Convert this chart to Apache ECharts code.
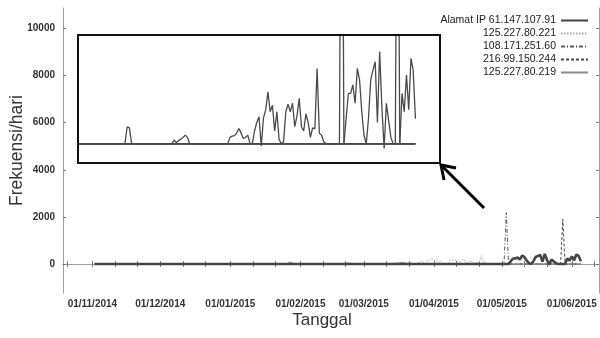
<!DOCTYPE html>
<html>
<head>
<meta charset="utf-8">
<script src="https://cdn.jsdelivr.net/npm/echarts@6/dist/echarts.min.js"></script>
<style>
  html, body { margin: 0; padding: 0; background: #fff; }
  #chart { width: 600px; height: 338px; }
</style>
</head>
<body>
<div id="chart"></div>
<script>
// tick labels
const monthLabels = ['2014-11-01', '2014-12-01', '2015-01-01', '2015-02-01', '2015-03-01',
  '2015-04-01', '2015-05-01', '2015-06-01'];
const yLabels = [0, 2000, 4000, 6000, 8000, 10000];

const seriesNames = ['Alamat IP 61.147.107.91', '125.227.80.221', '108.171.251.60',
  '216.99.150.244', '125.227.80.219'];

// daily hits per IP address, [date, value]
const ip61 = [
  ['2014-11-02', 0], ['2015-05-04', 0], ['2015-05-05', 120], ['2015-05-06', 236], ['2015-05-07', 236],
  ['2015-05-08', 276], ['2015-05-09', 190], ['2015-05-10', 353], ['2015-05-11', 300], ['2015-05-12', 150],
  ['2015-05-13', 40], ['2015-05-14', 0], ['2015-05-15', 120], ['2015-05-16', 300], ['2015-05-17', 345],
  ['2015-05-18', 385], ['2015-05-19', 100], ['2015-05-20', 432], ['2015-05-21', 170], ['2015-05-22', -22],
  ['2015-05-23', 190], ['2015-05-24', 110], ['2015-05-25', 30], ['2015-05-26', 0], ['2015-05-29', 0],
  ['2015-05-30', 236], ['2015-05-31', 150], ['2015-06-01', 322], ['2015-06-02', 160], ['2015-06-03', 400],
  ['2015-06-04', 345], ['2015-06-05', 118]
];
const ip125_221 = [
  ['2014-11-02', 0], ['2015-03-24', 0], ['2015-03-25', 60], ['2015-03-26', 100], ['2015-03-27', 127],
  ['2015-03-28', -10], ['2015-03-29', 120], ['2015-03-30', 160], ['2015-03-31', 244], ['2015-04-01', 150],
  ['2015-04-02', 181], ['2015-04-03', 60], ['2015-04-04', 150], ['2015-04-05', 20], ['2015-04-06', 0],
  ['2015-04-07', 10], ['2015-04-08', 150], ['2015-04-09', 186], ['2015-04-10', 150], ['2015-04-11', 190],
  ['2015-04-12', 80], ['2015-04-13', 130], ['2015-04-14', 213], ['2015-04-15', 80], ['2015-04-16', 60],
  ['2015-04-17', 140], ['2015-04-18', 100], ['2015-04-19', 30], ['2015-04-20', 75], ['2015-04-21', 70],
  ['2015-04-22', 353], ['2015-04-23', 50], ['2015-04-24', 40], ['2015-04-25', 10], ['2015-04-26', 0],
  ['2015-06-05', 0]
];
const ip108 = [
  ['2014-11-02', 0], ['2015-05-02', 0], ['2015-05-03', 2180], ['2015-05-04', 0], ['2015-06-05', 0]
];
const ip216 = [
  ['2014-11-02', 0], ['2015-05-27', 0], ['2015-05-28', 1900], ['2015-05-29', 0], ['2015-06-05', 0]
];
const ip125_219 = [
  ['2014-11-02', 0], ['2015-01-26', 0], ['2015-01-27', 80], ['2015-01-28', 75], ['2015-01-29', 0],
  ['2015-02-16', 0], ['2015-02-17', 18], ['2015-02-18', 5], ['2015-02-19', 15], ['2015-02-20', 22],
  ['2015-02-21', 30], ['2015-02-22', 40], ['2015-02-23', 30], ['2015-02-24', 0], ['2015-03-13', 0],
  ['2015-03-14', 30], ['2015-03-15', 36], ['2015-03-16', 38], ['2015-03-17', 50], ['2015-03-18', 72],
  ['2015-03-19', 50], ['2015-03-20', 25], ['2015-03-21', 30], ['2015-03-22', 40], ['2015-03-23', 0],
  ['2015-06-05', 0]
];

const allData = [ip61, ip125_221, ip108, ip216, ip125_219];
const lineStyles = [
  { color: '#454545', width: 2.6, type: 'solid' },
  { color: '#a8a8a8', width: 1, type: [1.5, 1.5] },
  { color: '#5a5a5a', width: 1, type: [4, 2, 1, 2] },
  { color: '#4a4a4a', width: 1, type: [3, 2] },
  { color: '#8a8a8a', width: 1, type: 'solid' }
];

// dates are put on a plain value axis as UTC timestamps
function ts(s) { return Date.parse(s); }
function pad(n) { return n < 10 ? '0' + n : '' + n; }
function fmtDate(v) {
  const d = new Date(v);
  return pad(d.getUTCDate()) + '/' + pad(d.getUTCMonth() + 1) + '/' + d.getUTCFullYear();
}

// minor ticks on the 1st, 11th and 21st of every month
const tickDates = [ts('2014-10-21')];
monthLabels.forEach(function (m) {
  tickDates.push(ts(m), ts(m.slice(0, 8) + '11'), ts(m.slice(0, 8) + '21'));
});
const labelDates = monthLabels.map(ts);

const axisColor = '#a0a0a0';
const labelFont = { fontFamily: 'Liberation Sans', fontSize: 10, color: '#333', fontWeight: 'bold' };

const chart = echarts.init(document.getElementById('chart'), null, { renderer: 'canvas' });

const series = [];
allData.forEach(function (d, i) {
  series.push({
    name: seriesNames[i],
    type: 'line',
    data: d.map(function (p) { return [ts(p[0]), p[1]]; }),
    symbol: 'none',
    color: lineStyles[i].color,
    xAxisIndex: 0,
    yAxisIndex: 0,
    z: i === 0 ? 5 : 3,
    lineStyle: lineStyles[i]
  });
});
// zoomed view in the box
allData.forEach(function (d, i) {
  series.push({
    name: 'zoom ' + seriesNames[i],
    type: 'line',
    data: d.map(function (p) { return [ts(p[0]), p[1]]; }),
    symbol: 'none',
    color: '#4a4a4a',
    xAxisIndex: 2,
    yAxisIndex: 2,
    clip: true,
    lineStyle: { color: '#4a4a4a', width: 1.3 }
  });
});

const xMin = ts('2014-10-19'), xMax = ts('2015-06-13');

const option = {
  animation: false,
  backgroundColor: '#fff',
  grid: [
    { left: 63, right: 1, top: 8, bottom: 45, outerBoundsMode: 'none' },
    { left: 78, top: 35, width: 362, height: 128, show: true, outerBoundsMode: 'none',
      borderColor: '#111', borderWidth: 2, backgroundColor: 'transparent', z: 4 }
  ],
  legend: {
    data: seriesNames,
    orient: 'vertical',
    right: 6,
    top: 10,
    align: 'right',
    itemWidth: 27,
    itemHeight: 10,
    itemGap: 2,
    itemStyle: { opacity: 0 },
    textStyle: { fontFamily: 'Liberation Sans', fontSize: 10.5, color: '#222' }
  },
  xAxis: [
    {
      type: 'value',
      gridIndex: 0,
      min: xMin,
      max: xMax,
      name: 'Tanggal',
      nameLocation: 'middle',
      nameGap: 19,
      nameMoveOverlap: false,
      nameTextStyle: { fontFamily: 'Liberation Sans', fontSize: 17, color: '#333', padding: [0, 18, 0, 0] },
      axisLine: { lineStyle: { color: axisColor } },
      axisTick: { inside: true, length: 3, customValues: tickDates, lineStyle: { color: '#777' } },
      axisLabel: Object.assign({ customValues: labelDates, formatter: fmtDate, margin: 6 }, labelFont),
      splitLine: { show: false }
    },
    {
      type: 'value',
      gridIndex: 0,
      position: 'top',
      min: xMin,
      max: xMax,
      axisLine: { lineStyle: { color: axisColor } },
      axisTick: { inside: true, length: 3, customValues: tickDates, lineStyle: { color: '#777' } },
      axisLabel: { show: false },
      splitLine: { show: false }
    },
    {
      type: 'value',
      gridIndex: 1,
      min: ts('2015-01-05'),
      max: ts('2015-06-16'),
      show: false
    }
  ],
  yAxis: [
    {
      type: 'value',
      gridIndex: 0,
      min: -1230,
      max: 10870,
      name: 'Frekuensi/hari',
      nameLocation: 'middle',
      nameGap: 37,
      nameMoveOverlap: false,
      nameTextStyle: { fontFamily: 'Liberation Sans', fontSize: 17.5, color: '#333' },
      axisLine: { show: true, lineStyle: { color: axisColor } },
      axisTick: { show: true, inside: true, length: 3, customValues: yLabels, lineStyle: { color: '#777' } },
      axisLabel: Object.assign({ customValues: yLabels, margin: 8, formatter: function (v) { return String(v); } }, labelFont),
      splitLine: { show: false }
    },
    {
      type: 'value',
      gridIndex: 0,
      position: 'right',
      min: -1230,
      max: 10870,
      axisLine: { show: true, lineStyle: { color: axisColor } },
      axisTick: { show: true, inside: true, length: 3, customValues: yLabels, lineStyle: { color: '#777' } },
      axisLabel: { show: false },
      splitLine: { show: false }
    },
    {
      type: 'value',
      gridIndex: 1,
      min: -90,
      max: 510,
      show: false
    }
  ],
  graphic: [
    {
      type: 'polyline',
      z: 100,
      shape: { points: [[484, 208], [442, 166]] },
      style: { stroke: '#000', lineWidth: 3, fill: null }
    },
    {
      type: 'polyline',
      z: 100,
      shape: { points: [[456, 168], [441, 165], [444, 180]] },
      style: { stroke: '#000', lineWidth: 3, fill: null, lineJoin: 'miter' }
    }
  ],
  series: series
};

chart.setOption(option);
</script>
</body>
</html>
